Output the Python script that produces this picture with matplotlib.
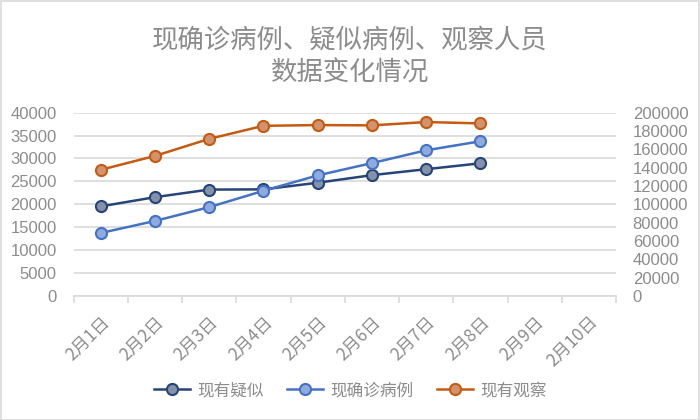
import matplotlib
matplotlib.use("Agg")
import matplotlib.pyplot as plt
from matplotlib.lines import Line2D
from matplotlib.patches import Rectangle
import numpy as np

plt.rcParams['font.family'] = ['Noto Sans CJK SC', 'DejaVu Sans']

dates = ["2月1日", "2月2日", "2月3日", "2月4日", "2月5日", "2月6日", "2月7日", "2月8日", "2月9日", "2月10日"]
suspected = [19544, 21558, 23214, 23260, 24702, 26359, 27657, 28942]
confirmed = [13748, 16369, 19381, 22942, 26302, 28985, 31774, 33738]
observed = [137594, 152700, 171329, 185555, 186354, 186045, 189660, 188183]

names = ["现有疑似", "现确诊病例", "现有观察"]
line_colors = ["#264478", "#4472C4", "#C55A11"]
fill_colors = ["#8391AA", "#8FAADC", "#D2926C"]

fig = plt.figure(figsize=(7, 4.2), dpi=100)
fig.patches.append(Rectangle((0.001, 0.001), 0.998, 0.997, transform=fig.transFigure,
                             fill=False, edgecolor="#D9D9D9", linewidth=1.2))
ax = fig.add_axes([0.105, 0.295, 0.775, 0.437])
ax2 = ax.twinx()

grey_txt = "#8C8C8C"
grid_c = "#D9D9D9"

series = [(ax, suspected), (ax, confirmed), (ax2, observed)]
handles = []
for (a, vals), nm, lc, fc in zip(series, names, line_colors, fill_colors):
    a.plot(np.arange(len(vals)), vals, color=lc, linewidth=1.8, marker='o', markersize=8,
           markerfacecolor=fc, markeredgecolor=lc, markeredgewidth=1.5, zorder=3)
    handles.append(Line2D([], [], color=lc, linewidth=1.8, marker='o', markersize=8,
                          markerfacecolor=fc, markeredgecolor=lc, markeredgewidth=1.5))

ax.set_xlim(-0.5, len(dates) - 0.5)
ax.set_ylim(0, 40000)
ax2.set_ylim(0, 200000)
ax.set_yticks(np.arange(0, 40001, 5000))
ax2.set_yticks(np.arange(0, 200001, 20000))
ax.yaxis.grid(True, color=grid_c, linewidth=1.2)
ax.set_axisbelow(True)

ax.set_xticks(np.arange(len(dates)))
ax.set_xticklabels(dates, rotation=45, ha='right', va='top', rotation_mode='anchor',
                   color=grey_txt, fontsize=12.5)
ax.set_xticks(np.arange(-0.5, len(dates)), minor=True)
ax.tick_params(axis='x', which='major', length=0, pad=12)
ax.tick_params(axis='x', which='minor', length=5, color=grid_c, width=1.2)

for a in (ax, ax2):
    for s in a.spines.values():
        s.set_visible(False)
ax.spines['bottom'].set_visible(True)
ax.spines['bottom'].set_color(grid_c)
ax.spines['bottom'].set_linewidth(1.2)

for lab in ax.get_yticklabels():
    lab.set_fontfamily(['Liberation Sans', 'DejaVu Sans'])
for lab in ax2.get_yticklabels():
    lab.set_fontfamily(['Liberation Sans', 'DejaVu Sans'])
ax.tick_params(axis='y', length=0, labelsize=12, labelcolor=grey_txt, pad=12)
ax2.tick_params(axis='y', length=0, labelsize=12, labelcolor=grey_txt, pad=12)

fig.text(0.5, 0.905, "现确诊病例、疑似病例、观察人员", ha='center', va='center',
         fontsize=19, color="#8C8C8C", fontweight='light')
fig.text(0.5, 0.826, "数据变化情况", ha='center', va='center',
         fontsize=19, color="#8C8C8C", fontweight='light')

leg = fig.legend(handles, names, loc='center', bbox_to_anchor=(0.5, 0.07), ncol=3,
                 frameon=False, fontsize=12, handlelength=2.2, columnspacing=1.4,
                 handletextpad=0.4)
for t in leg.get_texts():
    t.set_color(grey_txt)

fig.savefig("out.png", dpi=100)
